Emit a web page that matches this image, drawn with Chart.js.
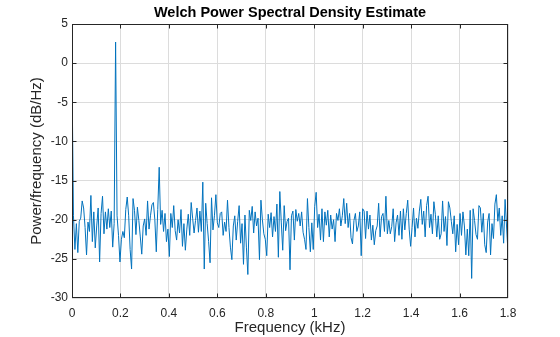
<!DOCTYPE html>
<html>
<head>
<meta charset="utf-8">
<script src="https://cdn.jsdelivr.net/npm/chart.js@4/dist/chart.umd.min.js"></script>
<style>
  html, body { margin: 0; padding: 0; background: #fff; }
  #wrap { width: 560px; height: 337px; }
</style>
</head>
<body>
<div id="wrap"><canvas id="psdChart" width="560" height="337"></canvas></div>
<script>
// frequency grid step (kHz) and PSD values (dB/Hz)
const freqStep = 0.006;
const psdDb = [
  -1.6, -19.5, -23.8, -20.5, -24.2, -20.2, -19.8, -17.6, -18.5, -21.0,
  -24.5, -20.3, -21.5, -16.9, -22.8, -19.0, -23.6, -20.8, -18.5, -25.4,
  -19.2, -17.0, -21.8, -19.0, -21.2, -18.6, -21.0, -18.9, -23.5, -20.5,
  2.7, -19.5, -22.0, -25.4, -22.5, -21.5, -22.3, -18.7, -17.1, -19.5,
  -23.8, -26.3, -17.3, -18.8, -21.9, -18.4, -20.1, -22.2, -24.4, -20.8,
  -19.9, -22.0, -17.6, -21.2, -19.5, -18.1, -17.8, -20.0, -24.1, -18.7,
  -13.3, -20.6, -18.8, -21.5, -19.2, -22.8, -21.2, -24.7, -19.2, -21.0,
  -18.2, -21.4, -22.6, -20.0, -21.7, -18.7, -23.4, -20.5, -23.9, -21.2,
  -19.3, -22.0, -17.8, -19.8, -21.7, -20.1, -18.5, -21.6, -18.9, -21.5,
  -15.2, -26.3, -17.9, -20.5, -22.8, -25.5, -17.2, -21.3, -19.5, -16.8,
  -20.4, -21.0, -19.2, -19.0, -22.0, -20.3, -21.5, -17.5, -21.0, -23.5,
  -25.1, -20.8, -19.5, -22.6, -20.2, -18.2, -23.0, -20.5, -25.7, -19.4,
  -23.5, -27.0, -18.8, -20.1, -18.3, -21.7, -19.0, -20.8, -19.8, -25.1,
  -17.5, -20.0, -21.8, -22.5, -24.6, -19.3, -21.0, -19.1, -22.2, -19.6,
  -21.5, -18.0, -24.8, -16.4, -20.3, -23.9, -18.2, -21.4, -20.2, -19.8,
  -26.4, -19.5, -18.9, -22.6, -18.7, -20.2, -19.2, -20.8, -19.0, -21.6,
  -22.5, -23.8, -17.3, -21.0, -24.1, -20.4, -23.8, -18.3, -16.5, -21.0,
  -19.3, -22.6, -18.6, -22.8, -19.0, -20.7, -18.8, -22.2, -19.4, -21.2,
  -20.0, -22.8, -19.2, -20.1, -18.6, -20.8, -19.5, -17.3, -20.5, -17.9,
  -21.0, -19.2, -22.3, -23.1, -20.1, -19.2, -21.5, -20.8, -19.0, -24.6,
  -18.6, -18.9, -22.4, -18.9, -21.2, -19.4, -22.6, -20.7, -23.2, -21.4,
  -20.8, -17.9, -22.2, -19.6, -19.2, -21.5, -17.0, -21.8, -20.1, -21.8,
  -20.9, -18.6, -22.8, -20.4, -19.4, -22.0, -18.9, -22.5, -18.6, -21.3,
  -19.2, -17.5, -21.2, -23.4, -21.0, -18.5, -22.2, -19.8, -21.1, -18.9,
  -17.4, -20.6, -18.9, -22.2, -18.2, -17.0, -21.0, -19.3, -21.8, -17.7,
  -19.3, -22.2, -19.5, -22.5, -21.8, -17.6, -21.5, -19.6, -23.3, -17.7,
  -18.5, -20.2, -21.8, -19.5, -24.1, -20.6, -23.2, -19.2, -22.0, -19.0,
  -20.8, -24.5, -21.2, -24.6, -18.8, -27.5, -18.6, -20.1, -21.9, -22.5,
  -18.2, -18.5, -21.6, -19.2, -23.2, -24.2, -20.3, -19.2, -24.5, -20.5,
  -22.4, -18.0, -16.8, -20.2, -18.5, -22.0, -19.5, -23.0, -17.4, -20.8,
  -24.2
];
const xTicks = [0, 0.2, 0.4, 0.6, 0.8, 1, 1.2, 1.4, 1.6, 1.8];
const yTicks = [5, 0, -5, -10, -15, -20, -25, -30];

const chartTitle = "Welch Power Spectral Density Estimate";
const xLabel = "Frequency (kHz)";
const yLabel = "Power/frequency (dB/Hz)";

const points = psdDb.map((v, i) => ({ x: +(i * freqStep).toFixed(3), y: v }));

const axisColor = "#262626";
const fontFamily = "'Liberation Sans', Arial, Helvetica, sans-serif";

// MATLAB-like box, inward ticks and text
const matlabFrame = {
  id: "matlabFrame",
  afterDraw(chart) {
    const ctx = chart.ctx;
    const a = chart.chartArea;
    const xs = chart.scales.x, ys = chart.scales.y;
    ctx.save();
    ctx.strokeStyle = axisColor;
    ctx.lineWidth = 1;
    const L = Math.round(a.left) + 0.5, R = Math.round(a.right) - 0.5;
    const T = Math.round(a.top) + 0.5, B = Math.round(a.bottom) - 0.5;
    ctx.strokeRect(L, T, R - L, B - T);
    const tl = 4;
    const clamp = (v, lo, hi) => Math.min(hi, Math.max(lo, v));
    ctx.beginPath();
    xTicks.forEach(t => {
      const px = clamp(Math.round(xs.getPixelForValue(t)) + 0.5, L, R);
      ctx.moveTo(px, B); ctx.lineTo(px, B - tl);
      ctx.moveTo(px, T); ctx.lineTo(px, T + tl);
    });
    yTicks.forEach(t => {
      const py = clamp(Math.round(ys.getPixelForValue(t)) + 0.5, T, B);
      ctx.moveTo(L, py); ctx.lineTo(L + tl, py);
      ctx.moveTo(R, py); ctx.lineTo(R - tl, py);
    });
    ctx.stroke();

    ctx.fillStyle = "#000";
    ctx.textAlign = "center";
    ctx.textBaseline = "middle";
    ctx.font = "bold 14.5px " + fontFamily;
    ctx.fillText(chartTitle, (a.left + a.right) / 2, 13);

    ctx.fillStyle = axisColor;
    ctx.font = "15px " + fontFamily;
    ctx.fillText(xLabel, (a.left + a.right) / 2, 328);
    ctx.translate(37, (a.top + a.bottom) / 2);
    ctx.rotate(-Math.PI / 2);
    ctx.fillText(yLabel, 0, 0);
    ctx.restore();
  }
};

new Chart(document.getElementById("psdChart"), {
  type: "line",
  data: {
    datasets: [
      {
        data: points,
        borderColor: "#0072BD",
        borderWidth: 1,
        pointRadius: 0,
        tension: 0,
        fill: false,
      },
    ],
  },
  options: {
    responsive: false,
    animation: false,
    events: [],
    layout: { padding: { top: 24, right: 52, left: 0, bottom: 0 } },
    plugins: {
      legend: { display: false },
      title: { display: false },
      tooltip: { enabled: false },
    },
    scales: {
      x: {
        type: "linear",
        min: 0,
        max: 1.8,
        afterFit: (s) => { s.height = 39; },
        afterBuildTicks: (s) => { s.ticks = xTicks.map(v => ({ value: v })); },
        grid: { color: "#dcdcdc", drawTicks: false },
        border: { display: false },
        ticks: {
          padding: 8,
          color: axisColor,
          font: { family: fontFamily, size: 12 },
          maxRotation: 0,
          callback: (v) => String(+v.toFixed(1)),
        },
      },
      y: {
        min: -30,
        max: 5,
        afterFit: (s) => { s.width = 72; },
        afterBuildTicks: (s) => { s.ticks = yTicks.map(v => ({ value: v })); },
        grid: { color: "#dcdcdc", drawTicks: false },
        border: { display: false },
        ticks: {
          padding: 4,
          color: axisColor,
          font: { family: fontFamily, size: 12 },
          callback: (v) => String(v),
        },
      },
    },
  },
  plugins: [matlabFrame],
});
</script>
</body>
</html>
